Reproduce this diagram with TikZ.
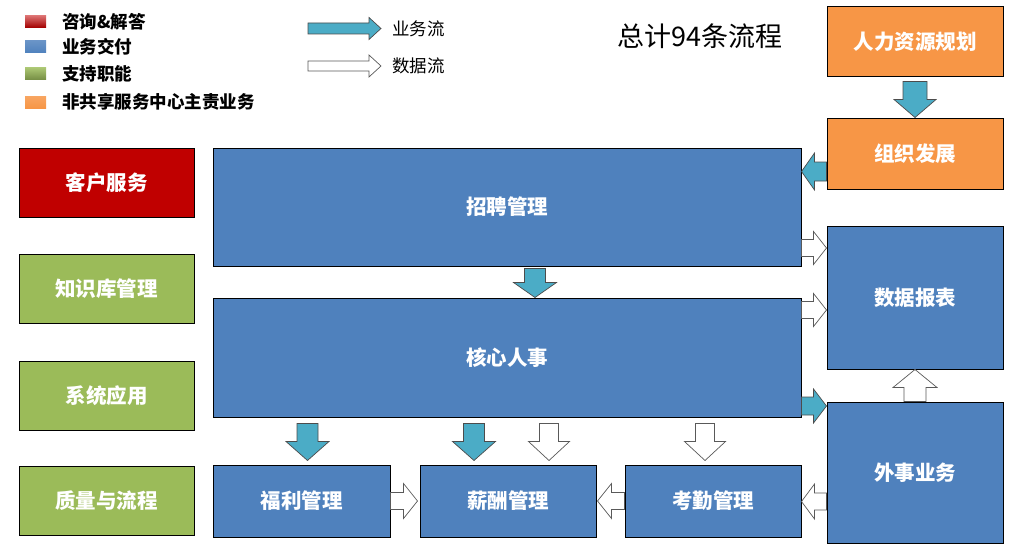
\documentclass[tikz,border=0pt]{standalone}
\usepackage{fontspec}
\setmainfont{Noto Sans CJK SC}
\usetikzlibrary{calc,positioning}

\definecolor{svcred}{HTML}{C00000}
\definecolor{bizblue}{HTML}{4F81BD}
\definecolor{supgreen}{HTML}{9BBB59}
\definecolor{hrorange}{HTML}{F79646}
\definecolor{flowteal}{HTML}{4BACC6}

\begin{document}
\begin{tikzpicture}[x=1pt,y=-1pt,
box/.style={
	rectangle,draw=black,line width=1pt,inner sep=0pt,
	text=white,font=\bfseries\fontsize{20.5}{20.5}\selectfont},
legsq/.style={rectangle,minimum width=21pt,minimum height=12pt,inner sep=0pt},
legtext/.style={inner sep=0pt,font=\bfseries\fontsize{17.5}{17.5}\selectfont},
flowtext/.style={inner sep=0pt,font=\fontsize{17.5}{17.5}\selectfont},
blockarrow/.style n args={3}{line width=0.7pt,line join=miter,
	to path={let \p1=(\tikztostart),\p2=(\tikztotarget),
		\p3=($(\tikztotarget)!#3!(\tikztostart)$) in
		($(\p1)!#1!90:(\p2)$) -- ($(\p3)!#1!-90:(\p1)$) -- ($(\p3)!#2!-90:(\p1)$)
		-- (\p2) -- ($(\p3)!#2!90:(\p1)$) -- ($(\p3)!#1!90:(\p1)$)
		-- ($(\p1)!#1!-90:(\p2)$) -- cycle}},
bizflow/.style n args={3}{blockarrow={#1}{#2}{#3},fill=flowteal,draw=black!70},
dataflow/.style n args={3}{blockarrow={#1}{#2}{#3},fill=white,draw=black!65},
]
\useasboundingbox (0,0) rectangle (1015,551);

% legend
\node[legsq,top color=svcred!55!white,bottom color=svcred!85!black] (sqask) at (35.5,21.5) {};
\node[legsq,top color=bizblue!85!white,bottom color=bizblue] (sqbiz) at (35.5,47) {};
\node[legsq,top color=supgreen!85!white,bottom color=supgreen!75!black] (sqsup) at (35.5,74) {};
\node[legsq,top color=hrorange!85!white,bottom color=hrorange] (sqhr) at (35.5,102) {};
\node[legtext,right=16pt of sqask] (txask) {咨询\&解答};
\node[legtext,right=16pt of sqbiz] (txbiz) {业务交付};
\node[legtext,right=16pt of sqsup] (txsup) {支持职能};
\node[legtext,right=16pt of sqhr] (txhr) {非共享服务中心主责业务};

\coordinate (lbs) at (308,28.5);
\coordinate (lbe) at (381,28.5);
\coordinate (lds) at (308,66);
\coordinate (lde) at (381,66);
\draw[bizflow={5.5pt}{11pt}{12pt}] (lbs) to (lbe);
\draw[dataflow={5pt}{11pt}{12pt}] (lds) to (lde);
\node[flowtext,anchor=west] (flowbiz) at (392,29) {业务流};
\node[flowtext,anchor=west] (flowdata) at (392,66) {数据流};

\node[inner sep=0pt,font=\fontsize{27}{27}\selectfont] (total) at (700,36) {总计94条流程};

% left column
\node[box,fill=svcred,minimum width=175pt,minimum height=69pt] (kefu) at (106.5,182.5) {客户服务};
\node[box,fill=supgreen,minimum width=175pt,minimum height=69pt] (zhishi) at (106.5,288.5) {知识库管理};
\node[box,fill=supgreen,minimum width=175pt,minimum height=69pt] (xitong) at (106.5,395.5) {系统应用};
\node[box,fill=supgreen,minimum width=175pt,minimum height=69pt] (zhiliang) at (106.5,500.5) {质量与流程};

% middle
\node[box,fill=bizblue,minimum width=588pt,minimum height=118pt] (zhaopin) at (507,207) {招聘管理};
\node[box,fill=bizblue,minimum width=588pt,minimum height=119pt] (hexin) at (507,357.5) {核心人事};
\node[box,fill=bizblue,minimum width=177pt,minimum height=72pt] (fuli) at (301.5,501) {福利管理};
\node[box,fill=bizblue,minimum width=176pt,minimum height=72pt] (xinchou) at (508,501) {薪酬管理};
\node[box,fill=bizblue,minimum width=176pt,minimum height=72pt] (kaoqin) at (713,501) {考勤管理};

% right column
\node[box,fill=hrorange,minimum width=176pt,minimum height=70pt] (hrp) at (915,42) {人力资源规划};
\node[box,fill=hrorange,minimum width=176pt,minimum height=71pt] (org) at (915,153.5) {组织发展};
\node[box,fill=bizblue,minimum width=176pt,minimum height=143pt] (baobiao) at (915,297.5) {数据报表};
\node[box,fill=bizblue,minimum width=176pt,minimum height=141pt] (waishi) at (915,472.5) {外事业务};

% flows
\draw[bizflow={12pt}{21pt}{18pt}] ($(hrp.south)+(0,4)$) to (org.north);
\coordinate (orgout) at ($(org.west)+(0,18)$);
\draw[bizflow={9.5pt}{18.5pt}{13pt}] (orgout) to (orgout -| zhaopin.east);
\coordinate (zpout) at ($(zhaopin.east)+(0,41)$);
\draw[dataflow={8.5pt}{16.5pt}{13pt}] (zpout) to (zpout -| baobiao.west);
\coordinate (hxout) at ($(hexin.east)+(0,-47.5)$);
\draw[dataflow={8.5pt}{16.5pt}{13pt}] (hxout) to (hxout -| baobiao.west);
\coordinate (hxws) at ($(hexin.east)+(0,48.5)$);
\draw[bizflow={9pt}{17pt}{13pt}] (hxws) to (hxws -| waishi.west);
\draw[dataflow={11pt}{22pt}{18pt}] (waishi.north) to (baobiao.south);
\coordinate (zphx) at ($(zhaopin.south)+(28,2)$);
\draw[bizflow={10.5pt}{21.5pt}{15pt}] (zphx) to (zphx |- hexin.north);

\draw[bizflow={10.5pt}{21.5pt}{19pt}] ($(hexin.south -| fuli.north)+(6,6)$) to ($(fuli.north)+(6,-4)$);
\draw[bizflow={10.5pt}{21.5pt}{19pt}] ($(hexin.south -| xinchou.north)+(-34,6)$) to ($(xinchou.north)+(-34,-4)$);
\draw[dataflow={9.5pt}{20.5pt}{19pt}] ($(hexin.south -| xinchou.north)+(41,6)$) to ($(xinchou.north)+(41,-4)$);
\draw[dataflow={9.5pt}{20.5pt}{19pt}] ($(hexin.south -| kaoqin.north)+(-8,6)$) to ($(kaoqin.north)+(-8,-4)$);

\draw[dataflow={8.5pt}{17.5pt}{14pt}] (fuli.east) to ($(xinchou.west)+(-2,0)$);
\draw[dataflow={8.5pt}{17.5pt}{14pt}] (kaoqin.west) to ($(xinchou.east)+(1,0)$);
\coordinate (wsout) at ($(waishi.west)+(0,29)$);
\draw[dataflow={8.5pt}{17.5pt}{13pt}] (wsout) to (wsout -| kaoqin.east);
\end{tikzpicture}
\end{document}
